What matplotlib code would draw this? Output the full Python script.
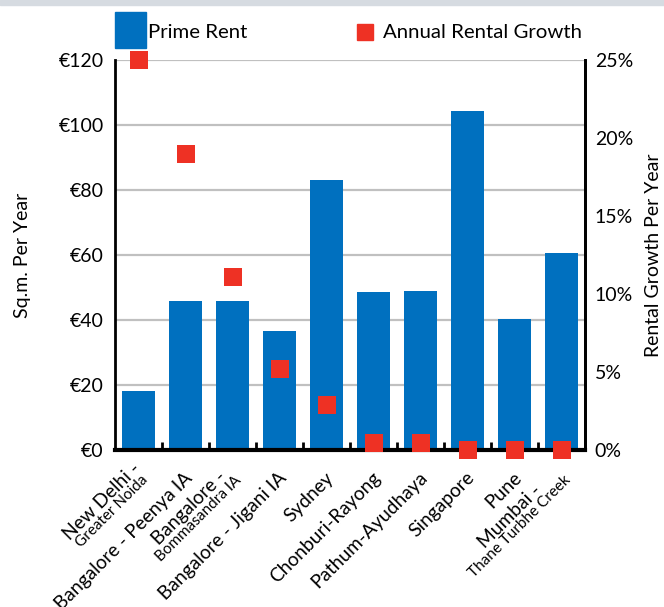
import matplotlib
matplotlib.use("Agg")
import matplotlib.pyplot as plt
import matplotlib.transforms as mtransforms
from matplotlib.patches import Rectangle
import numpy as np

plt.rcParams['font.family'] = ['Lato', 'DejaVu Sans']

# ---- data ----
main_labels = ["New Delhi -", "Bangalore - Peenya IA", "Bangalore -", "Bangalore - Jigani IA",
               "Sydney", "Chonburi-Rayong", "Pathum-Ayudhaya", "Singapore", "Pune", "Mumbai -"]
sub_labels = ["Greater Noida", "", "Bommasandra IA", "", "", "", "", "", "", "Thane Turbhe Creek"]
prime_rent = [18.2, 45.8, 45.8, 36.6, 83.1, 48.6, 48.9, 104.3, 40.3, 60.6]
rental_growth = [25.0, 19.0, 11.1, 5.2, 2.9, 0.45, 0.45, 0.0, 0.0, 0.0]
rent_ticks = [0, 20, 40, 60, 80, 100, 120]
rent_tick_labels = ["€0", "€20", "€40", "€60", "€80", "€100", "€120"]
growth_ticks = [0, 5, 10, 15, 20, 25]
growth_tick_labels = ["0%", "5%", "10%", "15%", "20%", "25%"]

BLUE = "#0070BF"
RED = "#EE3124"
W, H, DPI = 664, 607, 100

fig = plt.figure(figsize=(W / DPI, H / DPI), dpi=DPI)
fig.patch.set_facecolor("white")

# top grey band
fig.patches.append(Rectangle((0, 1 - 5 / H), 1, 5 / H, transform=fig.transFigure,
                             color="#D6DBE1", zorder=0))

ax = fig.add_axes([115 / W, 1 - 450 / H, 470 / W, 390 / H])
x = np.arange(len(prime_rent))
ax.bar(x, prime_rent, width=0.72, color=BLUE, zorder=2)
ax.set_xlim(-0.5, len(x) - 0.5)
ax.set_ylim(0, 120)
ax.set_yticks(rent_ticks)
ax.set_yticklabels(rent_tick_labels, fontsize=14)
ax.tick_params(axis='y', length=0, pad=8)
ax.grid(axis='y', color="#C0C0C0", lw=1.6, zorder=1)
ax.set_axisbelow(True)
ax.set_xticks([])
ax.set_xticks(np.arange(0.5, len(x) - 0.5, 1), minor=True)
ax.tick_params(axis='x', which='minor', direction='in', length=6, width=2, color='black')
ax.spines['top'].set_visible(False)
ax.spines['left'].set_linewidth(2)
ax.spines['right'].set_linewidth(2)
ax.spines['bottom'].set_linewidth(3)
ax.set_ylabel("Sq.m. Per Year", fontsize=14, labelpad=20)

ax2 = ax.twinx()
ax2.set_ylim(0, 25)
ax2.scatter(x, rental_growth, marker='s', s=150, color=RED, zorder=5, clip_on=False, linewidths=0)
ax2.set_yticks(growth_ticks)
ax2.set_yticklabels(growth_tick_labels, fontsize=14)
ax2.tick_params(axis='y', length=0, pad=7)
for s in ['top', 'bottom', 'left']:
    ax2.spines[s].set_visible(False)
ax2.spines['right'].set_linewidth(2)
ax2.set_ylabel("Rental Growth Per Year", fontsize=14, labelpad=9)

# x category labels
fig.canvas.draw()
renderer = fig.canvas.get_renderer()

def text_width(s, size):
    t = fig.text(0, 0, s, fontsize=size)
    w = t.get_window_extent(renderer).width
    t.remove()
    return w

MAIN_FS, SUB_FS = 13.8, 11
c, sn = np.cos(np.pi / 4), np.sin(np.pi / 4)
base = ax.get_xaxis_transform()
ax_x, ax_y = -2, -19  # anchor offset in px
for i, (m, sub) in enumerate(zip(main_labels, sub_labels)):
    if not sub:
        tr = base + mtransforms.ScaledTranslation(ax_x / DPI, ax_y / DPI, fig.dpi_scale_trans)
        ax.text(i, 0, m, rotation=45, rotation_mode='anchor', ha='right', va='top',
                fontsize=MAIN_FS, transform=tr)
    else:
        w2 = text_width(sub, SUB_FS)
        sx, sy = ax_x + 4, ax_y - 4
        cx = sx - (w2 / 2) * c
        cy = sy - (w2 / 2) * sn
        tr = base + mtransforms.ScaledTranslation(cx / DPI, cy / DPI, fig.dpi_scale_trans)
        ax.text(i, 0, sub, rotation=45, rotation_mode='anchor', ha='center', va='top',
                fontsize=SUB_FS, transform=tr)
        d = 16
        mx = cx - d * sn
        my = cy + d * c
        tr2 = base + mtransforms.ScaledTranslation(mx / DPI, my / DPI, fig.dpi_scale_trans)
        ax.text(i, 0, m, rotation=45, rotation_mode='anchor', ha='center', va='top',
                fontsize=MAIN_FS, transform=tr2)

# legend (manual)
fig.patches.append(Rectangle((115 / W, 1 - 48 / H), 31 / W, 36 / H, transform=fig.transFigure,
                             color=BLUE, zorder=3))
fig.text(148 / W, 1 - 32 / H, "Prime Rent", fontsize=14.7, va='center', ha='left')
fig.patches.append(Rectangle((357 / W, 1 - 40 / H), 16 / W, 16 / H, transform=fig.transFigure,
                             color=RED, zorder=3))
fig.text(383 / W, 1 - 32 / H, "Annual Rental Growth", fontsize=14.7, va='center', ha='left')

fig.savefig("out.png", dpi=DPI)
